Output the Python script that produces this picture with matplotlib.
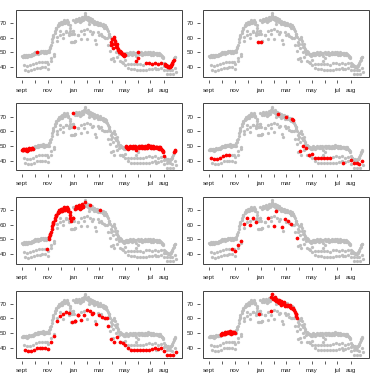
import matplotlib
matplotlib.use("Agg")
import matplotlib.pyplot as plt
from matplotlib.patches import Rectangle
import numpy as np

plt.rcParams["font.family"] = ["Liberation Sans", "DejaVu Sans"]

# ── data: daily load, one row per week (Mon..Fri), then Sat and Sun ───────────
weekday_vals = [
    [47.5, 47.0, 47.8, 47.2, 48.0], [47.0, 47.6, 48.1, 47.3, 46.8],
    [47.4, 48.0, 47.7, 48.4, 47.9], [48.2, 47.6, 48.5, 48.9, 48.0],
    [48.8, 49.5, 49.0, 50.2, 49.4], [49.6, 50.2, 49.2, 50.5, 49.8],
    [50.4, 49.8, 51.0, 50.6, 50.1], [50.0, 51.2, 50.5, 49.6, 50.8],
    [50.6, 49.8, 43.5, 51.0, 50.2], [50.0, 52.0, 53.0, 54.0, 55.0],
    [57.0, 59.0, 60.5, 61.0, 62.0], [63.5, 65.0, 66.0, 67.0, 66.5],
    [68.0, 68.6, 69.5, 68.8, 70.0], [69.5, 70.8, 71.2, 70.0, 69.2],
    [70.5, 71.5, 72.3, 71.0, 70.2], [71.8, 72.5, 71.4, 70.6, 69.8],
    [68.5, 67.0, 65.0, 57.5, 63.0], [65.0, 72.5, 64.8, 57.5, 63.0],
    [71.0, 72.5, 73.2, 72.0, 71.4], [72.8, 73.5, 72.4, 71.6, 70.8],
    [71.5, 72.8, 74.0, 73.2, 72.1], [74.5, 76.8, 75.8, 74.2, 73.0],
    [73.8, 72.5, 74.5, 73.0, 71.8], [73.5, 72.0, 71.5, 72.8, 70.6],
    [70.8, 71.6, 69.5, 70.2, 71.0], [69.8, 70.5, 71.2, 69.4, 68.8],
    [70.0, 69.2, 70.5, 68.6, 69.0], [68.5, 69.4, 67.8, 68.2, 67.0],
    [68.8, 67.7, 66.5, 67.2, 65.8], [64.5, 63.0, 61.5, 62.8, 60.5],
    [55.0, 57.5, 59.0, 56.0, 53.0], [60.5, 59.0, 58.0, 55.5, 54.0],
    [56.0, 54.0, 52.5, 51.5, 50.5], [51.0, 50.2, 49.5, 50.0, 49.2],
    [49.0, 48.5, 48.8, 47.8, 48.0], [49.0, 49.8, 48.6, 49.4, 48.2],
    [49.5, 48.8, 50.2, 49.0, 49.6], [48.6, 49.4, 50.0, 48.8, 49.2],
    [49.8, 48.9, 49.3, 44.0, 47.5], [46.0, 50.2, 49.6, 48.9, 49.8],
    [49.2, 50.0, 49.0, 48.6, 49.8], [48.8, 49.6, 50.3, 49.1, 48.9],
    [49.4, 48.7, 49.9, 50.4, 49.0], [49.0, 50.1, 49.3, 48.6, 49.7],
    [48.6, 49.2, 50.0, 49.5, 48.8], [49.5, 38.6, 49.0, 48.4, 49.3],
    [48.9, 49.6, 48.2, 49.0, 48.5], [48.0, 47.2, 47.5, 46.6, 46.0],
    [43.0, 42.0, 41.5, 41.2, 40.8], [40.5, 40.2, 41.0, 40.0, 39.8],
    [40.2, 40.8, 41.2, 42.0, 42.5], [44.0, 45.0, 46.0, 46.8, 47.0],
]
weekday_clusters = [
    "33333", "33333", "33333", "33333", "88888", "81888", "88888", "88888",
    "88588", "55555", "55555", "55555", "55555", "55555", "55555", "55555",
    "55525", "53523", "55555", "55555", "55555", "88588", "88888", "54888",
    "88888", "88888", "48588", "88888", "44888", "88888", "11111", "11111",
    "11111", "11111", "11111", "33333", "33333", "33333", "33313", "11333",
    "33333", "33333", "33333", "33333", "33333", "34333", "33333", "33333",
    "31111", "11111", "11111", "11333",
]
saturday_vals = [
    41.5, 41.0, 41.2, 42.0, 42.8, 43.5, 43.8, 43.5, 42.3, 46.5, 49.0, 60.5, 64.7,
    59.8, 64.4, 62.3, 62.9, 58.0, 62.0, 64.7, 65.2, 59.5, 69.8, 63.0, 58.4, 64.0,
    62.8, 60.5, 60.0, 51.2, 46.5, 50.0, 48.8, 43.7, 44.6, 42.0, 42.0, 41.8, 42.0,
    41.8, 41.6, 42.5, 43.0, 42.2, 42.8, 42.0, 42.6, 40.5, 38.0, 38.0, 37.8, 39.5,
]
saturday_clusters = "4444444666666666877686676666764444444444411111144444"
sunday_vals = [
    38.0, 37.5, 37.8, 38.5, 39.5, 39.6, 39.8, 40.0, 39.0, 44.0, 47.7, 58.0, 61.8,
    63.0, 64.3, 63.4, 57.5, 58.0, 62.0, 59.0, 62.5, 66.0, 65.0, 64.0, 56.0, 62.3,
    61.0, 60.0, 55.0, 45.7, 44.0, 47.0, 44.0, 43.0, 41.6, 39.5, 38.6, 38.5, 38.2,
    38.0, 38.2, 38.3, 38.5, 38.8, 39.5, 39.0, 39.5, 37.8, 35.0, 35.0, 35.2, 36.8,
]
sunday_cluster = "7"

month_days = [0, 30, 61, 91, 122, 153, 181, 212, 242, 273, 303, 334]
month_labels = ["sept", "", "nov", "", "jan", "", "mar", "", "may", "", "jul", "aug"]
y_ticks = [40, 50, 60, 70]

# ── assemble day index / value / cluster ──────────────────────────────────────
days, vals, clus = [], [], []
for k in range(len(weekday_vals)):
    for j in range(5):
        days.append(7 * k + j)
        vals.append(weekday_vals[k][j])
        clus.append(int(weekday_clusters[k][j]))
    days.append(7 * k + 5)
    vals.append(saturday_vals[k])
    clus.append(int(saturday_clusters[k]))
    days.append(7 * k + 6)
    vals.append(sunday_vals[k])
    clus.append(int(sunday_cluster))
days = np.array(days)
vals = np.array(vals)
clus = np.array(clus)

# ── canvas ────────────────────────────────────────────────────────────────────
W = 374.0
fig = plt.figure(figsize=(3.74, 3.74), dpi=100)
fig.patch.set_facecolor("white")

GRAY = "#BEBEBE"
BOX_L = [16, 203]
BOX_W = 166
BOX_H = 67

for c in range(1, 9):
    row, col = (c - 1) // 2, (c - 1) % 2
    top = 10 + 93.5 * row
    ax = fig.add_axes([BOX_L[col] / W, 1 - (top + BOX_H) / W, BOX_W / W, BOX_H / W])
    ax.scatter(days, vals, s=5.5, color=GRAY, linewidths=0, zorder=2)
    m = clus == c
    ax.scatter(days[m], vals[m], s=7.0, color="#FF0000", linewidths=0, zorder=3)

    ax.set_xlim(-14.5, 377.5)
    ax.set_ylim(33.2, 79.1)
    ax.set_xticks(month_days)
    ax.set_xticklabels(month_labels)
    ax.set_yticks(y_ticks)
    ax.set_yticklabels([str(v) for v in y_ticks], rotation=90, va="center")

    for side in ["top", "right"]:
        ax.spines[side].set_visible(False)
    for side in ["bottom", "left"]:
        ax.spines[side].set_position(("outward", 2.5))
        ax.spines[side].set_visible(False)
    ax.add_patch(Rectangle((0, 0), 1, 1, transform=ax.transAxes, fill=False,
                           ec="#404040", lw=0.7, clip_on=False, zorder=4))
    ax.tick_params(axis="both", direction="out", length=2.4, width=0.6,
                   color="#404040", labelsize=4.5, labelcolor="#222222")
    ax.tick_params(axis="x", pad=3.0)
    ax.tick_params(axis="y", pad=1.8)

fig.savefig("out.png", dpi=100, facecolor="white")
